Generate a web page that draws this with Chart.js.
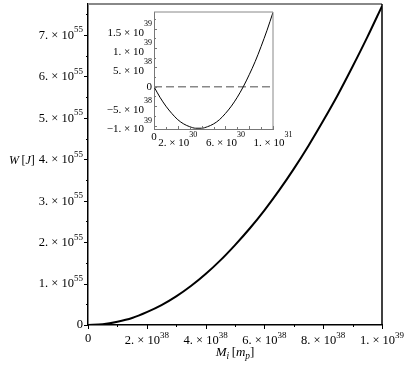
<!DOCTYPE html>
<html lang="en">
<head>
<meta charset="UTF-8">
<title>W vs M_i</title>
<script src="https://cdn.jsdelivr.net/npm/chart.js"></script>
<style>
    html, body { margin: 0; padding: 0; background: #fff; }
    #wrap { position: relative; width: 407px; height: 367px; }
    #mainChart { position: absolute; left: 0; top: 0; }
    #insetChart { position: absolute; left: 90px; top: 0; }
</style>
</head>
<body>
<div id="wrap">
    <canvas id="mainChart" width="407" height="367"></canvas>
    <canvas id="insetChart" width="210" height="150"></canvas>
</div>
<script>
// main curve: M_i in units of 1e38 m_p, W in units of 1e55 J
const massMain   = [0, 0.5, 1, 1.5, 2, 2.5, 3, 3.5, 4, 4.5, 5, 5.5, 6, 6.5, 7, 7.5, 8, 8.5, 9, 9.5, 10];
const energyMain = [0, 0.02, 0.08, 0.17, 0.31, 0.48, 0.69, 0.94, 1.23, 1.56, 1.93, 2.33, 2.77, 3.25, 3.77, 4.33, 4.93, 5.56, 6.24, 6.95, 7.70];

// tick labels: mantissa part ^ exponent
const mainXTicks  = [0, 2, 4, 6, 8, 10];
const mainXLabels = ['0', '2. × 10^38', '4. × 10^38', '6. × 10^38', '8. × 10^38', '1. × 10^39'];
const mainXMinor  = [1, 3, 5, 7, 9];
const mainYTicks  = [0, 1, 2, 3, 4, 5, 6, 7];
const mainYLabels = ['0', '1. × 10^55', '2. × 10^55', '3. × 10^55', '4. × 10^55', '5. × 10^55', '6. × 10^55', '7. × 10^55'];
const mainYMinor  = [0.5, 1.5, 2.5, 3.5, 4.5, 5.5, 6.5, 7.5];

// inset: M_i in units of 1e30 m_p, W in units of 1e39 J
const massInset   = [0, 0.5, 1, 1.5, 2, 2.5, 3, 3.5, 4, 4.5, 5, 5.5, 6, 6.5, 7, 7.5, 8, 8.5, 9, 9.5, 10];
const energyInset = [0, -0.27, -0.50, -0.69, -0.85, -0.96, -1.03, -1.07, -1.07, -1.03, -0.96, -0.85, -0.69, -0.50, -0.27, 0, 0.31, 0.65, 1.04, 1.46, 1.92];

const insetXTicks  = [0, 2, 4, 6, 8, 10];
const insetXLabels = ['0', '2. × 10^30', '', '6. × 10^30', '', '1. × 10^31'];
const insetXMinor  = [1, 3, 5, 7, 9];
const insetYTicks  = [-1, -0.5, 0, 0.5, 1, 1.5];
const insetYLabels = ['−1. × 10^39', '−5. × 10^38', '0', '5. × 10^38', '1. × 10^39', '1.5 × 10^39'];
const insetYMinor  = [-0.75, -0.25, 0.25, 0.75, 1.25, 1.75];

const serif = 'Liberation Serif';

// tick marks, tick labels with raised exponents, and the box edges
const axisDecor = {
    id: 'axisDecor',
    afterDraw(chart, args, o) {
        const { ctx, chartArea: a, scales } = chart;
        ctx.save();

        // box top and right
        ctx.strokeStyle = o.topColor;
        ctx.lineWidth = o.topWidth;
        ctx.beginPath();
        ctx.moveTo(a.left, a.top);
        ctx.lineTo(a.right, a.top);
        ctx.stroke();
        ctx.strokeStyle = o.rightColor;
        ctx.lineWidth = o.rightWidth;
        ctx.beginPath();
        ctx.moveTo(a.right, a.top);
        ctx.lineTo(a.right, a.bottom);
        ctx.stroke();

        // tick marks (dir 1 = outward, -1 = inward)
        ctx.strokeStyle = o.tickColor;
        ctx.lineWidth = 1;
        ctx.beginPath();
        const xMark = (v, len) => {
            const px = Math.round(scales.x.getPixelForValue(v)) + 0.5;
            ctx.moveTo(px, a.bottom);
            ctx.lineTo(px, a.bottom + o.dir * len);
        };
        const yMark = (v, len) => {
            const py = Math.round(scales.y.getPixelForValue(v)) + 0.5;
            ctx.moveTo(a.left, py);
            ctx.lineTo(a.left - o.dir * len, py);
        };
        o.xTicks.forEach(v => xMark(v, o.major));
        o.yTicks.forEach(v => yMark(v, o.major));
        o.xMinor.forEach(v => xMark(v, o.minor));
        o.yMinor.forEach(v => yMark(v, o.minor));
        ctx.stroke();

        // labels
        ctx.fillStyle = '#000';
        ctx.textBaseline = 'middle';
        ctx.textAlign = 'left';
        const fb = o.size + 'px "' + serif + '"';
        const fe = o.expSize + 'px "' + serif + '"';
        const measure = lab => {
            const [b, e] = lab.split('^');
            ctx.font = fb;
            const wb = ctx.measureText(b).width;
            let we = 0;
            if (e) { ctx.font = fe; we = ctx.measureText(e).width; }
            return { b, e, wb, we };
        };
        const put = (m, x, yb, ye) => {
            ctx.font = fb;
            ctx.fillText(m.b, x, yb);
            if (m.e) { ctx.font = fe; ctx.fillText(m.e, x + m.wb, ye); }
        };
        o.xTicks.forEach((v, i) => {
            if (!o.xLabels[i]) return;
            const m = measure(o.xLabels[i]);
            const x0 = scales.x.getPixelForValue(v) - (m.wb + m.we) / 2;
            if (m.e) put(m, x0, a.bottom + o.xBase, a.bottom + o.xExp);
            else put(m, x0, a.bottom + o.xPlain, 0);
        });
        o.yTicks.forEach((v, i) => {
            const m = measure(o.yLabels[i]);
            const py = scales.y.getPixelForValue(v);
            const x0 = a.left - o.yGap - m.wb - m.we;
            put(m, x0, py + (m.e ? o.yBase : 0), py + o.yExp);
        });
        ctx.restore();
    }
};

// draw runs of text: [text, italic, subscript]
function drawRuns(ctx, runs, x, y, size) {
    runs.forEach(([t, italic, sub]) => {
        const s = sub ? size * 0.72 : size;
        ctx.font = (italic ? 'italic ' : '') + s + 'px "' + serif + '"';
        ctx.fillText(t, x, sub ? y + size * 0.28 : y);
        x += ctx.measureText(t).width;
    });
}
function runsWidth(ctx, runs, size) {
    let w = 0;
    runs.forEach(([t, italic, sub]) => {
        const s = sub ? size * 0.72 : size;
        ctx.font = (italic ? 'italic ' : '') + s + 'px "' + serif + '"';
        w += ctx.measureText(t).width;
    });
    return w;
}

const axisTitles = {
    id: 'axisTitles',
    afterDraw(chart) {
        const { ctx, chartArea: a } = chart;
        ctx.save();
        ctx.fillStyle = '#000';
        ctx.textBaseline = 'middle';
        ctx.textAlign = 'left';
        drawRuns(ctx, [['W', true], ['\u2009[', false], ['J', true], [']', false]], 9, 161, 12);
        const xRuns = [['M', true], ['i', true, true], ['\u2009[', false], ['m', true], ['p', true, true], [']', false]];
        const w = runsWidth(ctx, xRuns, 13);
        drawRuns(ctx, xRuns, (a.left + a.right) / 2 - w / 2, 353, 13);
        ctx.restore();
    }
};

function axis(opts) {
    return {
        type: 'linear',
        min: opts.min,
        max: opts.max,
        afterBuildTicks: s => { s.ticks = opts.ticks.map(v => ({ value: v })); },
        afterFit: s => {
            if (opts.width) s.width = opts.width;
            if (opts.height) s.height = opts.height;
            s.paddingTop = 0; s.paddingBottom = 0; s.paddingLeft = 0; s.paddingRight = 0;
        },
        ticks: { display: false },
        grid: { drawOnChartArea: false, drawTicks: false },
        border: { color: opts.color, width: opts.bw }
    };
}

new Chart(document.getElementById('mainChart'), {
    type: 'line',
    data: {
        datasets: [{
            data: massMain.map((m, i) => ({ x: m, y: energyMain[i] })),
            borderColor: '#000',
            borderWidth: 2,
            pointRadius: 0,
            cubicInterpolationMode: 'monotone'
        }]
    },
    options: {
        responsive: false,
        animation: false,
        devicePixelRatio: 1,
        layout: { padding: { top: 4, right: 25, left: 0, bottom: 0 } },
        plugins: {
            legend: { display: false },
            tooltip: { enabled: false },
            axisDecor: {
                xTicks: mainXTicks, xLabels: mainXLabels, xMinor: mainXMinor,
                yTicks: mainYTicks, yLabels: mainYLabels, yMinor: mainYMinor,
                dir: 1, major: 4, minor: 2, tickColor: '#000',
                size: 12.5, expSize: 9,
                xBase: 16, xExp: 11, xPlain: 14,
                yGap: 5, yBase: 0.5, yExp: -5,
                topColor: '#888', topWidth: 2, rightColor: '#000', rightWidth: 1.5
            }
        },
        scales: {
            x: axis({ min: 0, max: 10, ticks: mainXTicks, height: 42, color: '#000', bw: 1.5 }),
            y: axis({ min: 0, max: 7.75, ticks: mainYTicks, width: 88, color: '#000', bw: 1.5 })
        }
    },
    plugins: [axisDecor, axisTitles]
});

new Chart(document.getElementById('insetChart'), {
    type: 'line',
    data: {
        datasets: [{
            data: massInset.map((m, i) => ({ x: m, y: energyInset[i] })),
            borderColor: '#000',
            borderWidth: 1,
            pointRadius: 0,
            cubicInterpolationMode: 'monotone'
        }, {
            data: [{ x: 0, y: 0 }, { x: 10, y: 0 }],
            borderColor: '#888',
            borderWidth: 1.5,
            borderDash: [8, 4],
            pointRadius: 0
        }]
    },
    options: {
        responsive: false,
        animation: false,
        devicePixelRatio: 1,
        layout: { padding: { top: 12, right: 27, left: 0, bottom: 0 } },
        plugins: {
            legend: { display: false },
            tooltip: { enabled: false },
            axisDecor: {
                xTicks: insetXTicks, xLabels: insetXLabels, xMinor: insetXMinor,
                yTicks: insetYTicks, yLabels: insetYLabels, yMinor: insetYMinor,
                dir: -1, major: 3, minor: 2, tickColor: '#777',
                size: 11, expSize: 8,
                xBase: 14, xExp: 6, xPlain: 8,
                yGap: 2, yBase: 4, yExp: -5,
                topColor: '#888', topWidth: 1, rightColor: '#888', rightWidth: 1
            }
        },
        scales: {
            x: axis({ min: 0, max: 10, ticks: insetXTicks, height: 21, color: '#777', bw: 1 }),
            y: axis({ min: -1.09, max: 1.93, ticks: insetYTicks, width: 64, color: '#777', bw: 1 })
        }
    },
    plugins: [axisDecor]
});
</script>
</body>
</html>
